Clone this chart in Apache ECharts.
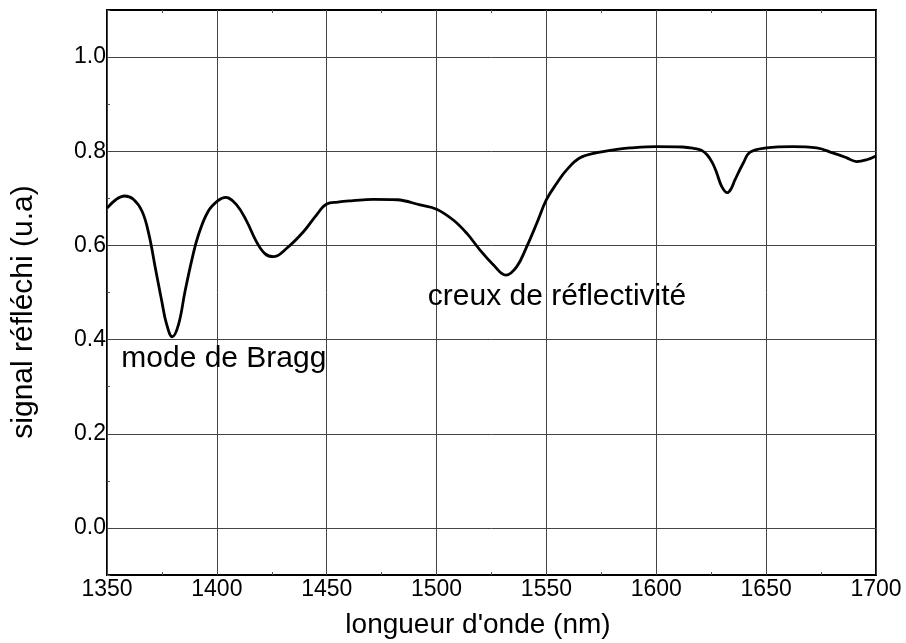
<!DOCTYPE html>
<html>
<head>
<meta charset="utf-8">
<script src="https://cdn.jsdelivr.net/npm/echarts@6/dist/echarts.min.js"></script>
<style>html,body{margin:0;padding:0;background:#fff}#c{width:906px;height:643px}</style>
</head>
<body>
<div id="c"></div>
<script>
// Data
var wavelength = [1350, 1354, 1358, 1362, 1366, 1369, 1372, 1375, 1377, 1379.7, 1382.5, 1385.5, 1388.8, 1391.6, 1396, 1400.5, 1404, 1409, 1413.6, 1418, 1422, 1425.7, 1431.8, 1439.4, 1445.4, 1450, 1455, 1462, 1471, 1482, 1492.5, 1500, 1507.6, 1513.7, 1519.8, 1525.8, 1531.6, 1536.5, 1541, 1545.6, 1550, 1554.7, 1559.3, 1565.3, 1573, 1580.5, 1588, 1600, 1612, 1617, 1620.5, 1623, 1625.5, 1627.5, 1629.8, 1632.3, 1634, 1635.8, 1639.6, 1642.7, 1650, 1662, 1673, 1680.6, 1686.7, 1691.2, 1695.8, 1700];
var signal = [0.679, 0.697, 0.705, 0.698, 0.672, 0.625, 0.552, 0.48, 0.435, 0.406, 0.431, 0.502, 0.573, 0.622, 0.672, 0.695, 0.702, 0.686, 0.651, 0.608, 0.582, 0.576, 0.594, 0.629, 0.665, 0.688, 0.692, 0.695, 0.698, 0.697, 0.686, 0.677, 0.654, 0.626, 0.59, 0.559, 0.537, 0.555, 0.597, 0.647, 0.697, 0.732, 0.761, 0.786, 0.797, 0.803, 0.807, 0.81, 0.809, 0.806, 0.802, 0.793, 0.776, 0.754, 0.725, 0.712, 0.72, 0.739, 0.775, 0.798, 0.807, 0.81, 0.807, 0.796, 0.786, 0.778, 0.782, 0.79];
var yTicks = [0, 0.2, 0.4, 0.6, 0.8, 1.0];
var yMinorTicks = [-0.1, 0.1, 0.3, 0.5, 0.7, 0.9, 1.1];
var xTitle = "longueur d'onde (nm)";
var yTitle = 'signal réfléchi (u.a)';
var annotations = [
  { text: 'mode de Bragg', x: 1356.5, y: 0.36 },
  { text: 'creux de réflectivité', x: 1496, y: 0.49 }
];

var chart = echarts.init(document.getElementById('c'));
var FONT = '"Liberation Sans", Arial, sans-serif';
var pts = wavelength.map(function (w, i) { return [w, signal[i]]; });

var option = {
  animation: false,
  backgroundColor: '#fff',
  grid: { left: 107, top: 10, right: 30, bottom: 68, outerBoundsMode: 'none', containLabel: false,
    show: true, borderColor: '#000', borderWidth: 2, backgroundColor: 'transparent' },
  graphic: [
    { type: 'text', x: 478, y: 625, style: { text: xTitle, fontFamily: FONT, fontSize: 28, fill: '#000', align: 'center', verticalAlign: 'middle' } },
    { type: 'text', x: 24, y: 312, rotation: Math.PI / 2, style: { text: yTitle, fontFamily: FONT, fontSize: 30, fill: '#000', align: 'center', verticalAlign: 'middle' } }
  ],
  xAxis: [{
    type: 'value', min: 1350, max: 1700, interval: 50,
    axisLine: { show: false, onZero: false },
    axisTick: { show: false, inside: true },
    minorTick: { show: true, splitNumber: 2, length: 3, lineStyle: { color: '#555', width: 1 } },
    axisLabel: { fontFamily: FONT, fontSize: 23, color: '#000', margin: 3, formatter: function (v) { return String(v); } },
    splitLine: { show: true, lineStyle: { color: '#444', width: 1 } }
  }, {
    type: 'value', min: 1350, max: 1700, interval: 50, position: 'top',
    axisLine: { show: false, onZero: false }, axisTick: { show: false, inside: true },
    minorTick: { show: true, splitNumber: 2, length: 3, lineStyle: { color: '#555', width: 1 } },
    axisLabel: { show: false }, splitLine: { show: false }
  }],
  yAxis: [{
    type: 'value', min: -0.1, max: 1.1,
    axisLine: { show: false, onZero: false },
    axisTick: { show: false, customValues: yTicks },
    axisLabel: { customValues: yTicks, fontFamily: FONT, fontSize: 23, color: '#000', margin: 1,
      formatter: function (v) { return v.toFixed(1); } },
    splitLine: { show: true, lineStyle: { color: '#444', width: 1 } }
  }, {
    type: 'value', min: -0.1, max: 1.1, position: 'left',
    axisLine: { show: false, onZero: false },
    axisTick: { show: true, inside: true, length: 3, customValues: yMinorTicks, lineStyle: { color: '#555' } },
    axisLabel: { show: false }, splitLine: { show: false }
  }],
  series: [{
    type: 'line', data: pts, xAxisIndex: 0, yAxisIndex: 0,
    smooth: 0.4, symbol: 'none',
    lineStyle: { color: '#000', width: 2.8 },
    markPoint: {
      symbol: 'circle', symbolSize: 0,
      data: annotations.map(function (a) {
        return { coord: [a.x, a.y], value: a.text,
          label: { show: true, position: 'right', distance: 0, formatter: a.text,
            fontFamily: FONT, fontSize: 30, color: '#000' } };
      })
    }
  }]
};
chart.setOption(option);
</script>
</body>
</html>
